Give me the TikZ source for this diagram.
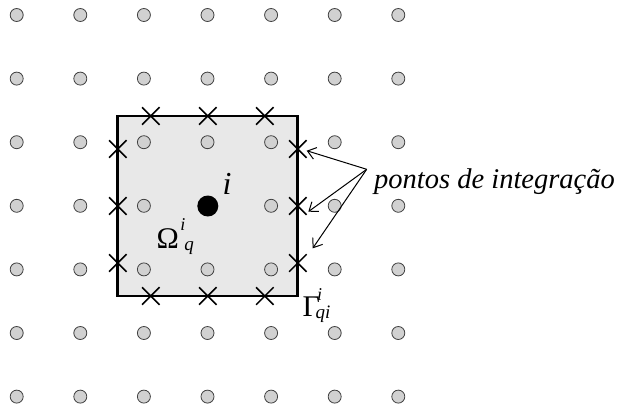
\documentclass[tikz,border=0pt]{standalone}
\usepackage{fontspec}
\setmainfont{Liberation Serif}
\usetikzlibrary{arrows.meta,shapes.misc}
\newcommand\scrsup[1]{{\fontsize{18}{20}\selectfont\itshape #1}}
\newcommand\scrsub[1]{{\fontsize{19}{20}\selectfont\itshape #1}}
\begin{document}
\begin{tikzpicture}[x=1pt,y=-1pt,
 gpt/.style={circle,draw=black!75,fill=black!18,line width=0.8pt,minimum size=13pt,inner sep=0pt},
 ipt/.style={cross out,draw=black,line width=1.5pt,minimum size=16pt,inner sep=0pt},
 lbl/.style={inner sep=0pt,anchor=base west},
 ptr/.style={line width=1pt,-{Straight Barb[length=8pt,width=12pt]}}]
\useasboundingbox (0,0) rectangle (623,410);
% domain
\node[draw=black,fill=black!9,line width=2.7pt,minimum size=180pt,inner sep=0pt] (dom) at (207.8,206) {};
% grid points
\foreach \c in {0,...,6}{
  \foreach \r in {0,...,6}{
    \node[gpt] (g\c\r) at ({16.7+63.6*\c},{15+63.6*\r}) {};
  }
}
% central node
\node[circle,fill=black,minimum size=21pt,inner sep=0pt] (ctr) at (207.8,206) {};
% integration points
\foreach \o [count=\k] in {-57,0,57}{
  \node[ipt] (xt\k) at ({207.8+\o},116) {};
  \node[ipt] (xb\k) at ({207.8+\o},296) {};
  \node[ipt] (xl\k) at (117.8,{206+\o}) {};
  \node[ipt] (xr\k) at (297.8,{206+\o}) {};
}
% labels
\node[lbl,font=\fontsize{32}{34}\selectfont\itshape] (li) at (222.5,194.3) {i};
\node[lbl,font=\fontsize{30}{32}\selectfont] (om) at (156.5,248.3)
  {Ω\kern1.5pt\rlap{\raisebox{17.8pt}{\scrsup{i}}}\kern4pt\raisebox{-2.3pt}{\scrsub{q}}};
\node[lbl,font=\fontsize{30}{32}\selectfont] (ga) at (302.5,316.7)
  {Γ\kern-2.8pt\rlap{\raisebox{16.7pt}{\scrsup{i}}}\kern-1.5pt\raisebox{-1.6pt}{\scrsub{qi}}};
\node[lbl,font=\fontsize{28.5}{30}\selectfont\itshape] (txt) at (374,188.3) {pontos de integração};
% pointers
\coordinate (src) at (366.7,169.3);
\coordinate (t1) at (306.7,150.7);
\coordinate (t2) at (308.3,211.7);
\coordinate (t3) at (312.7,248.3);
\draw[ptr] (src) -- (t1);
\draw[ptr] (src) -- (t2);
\draw[ptr] (src) -- (t3);
\end{tikzpicture}
\end{document}
